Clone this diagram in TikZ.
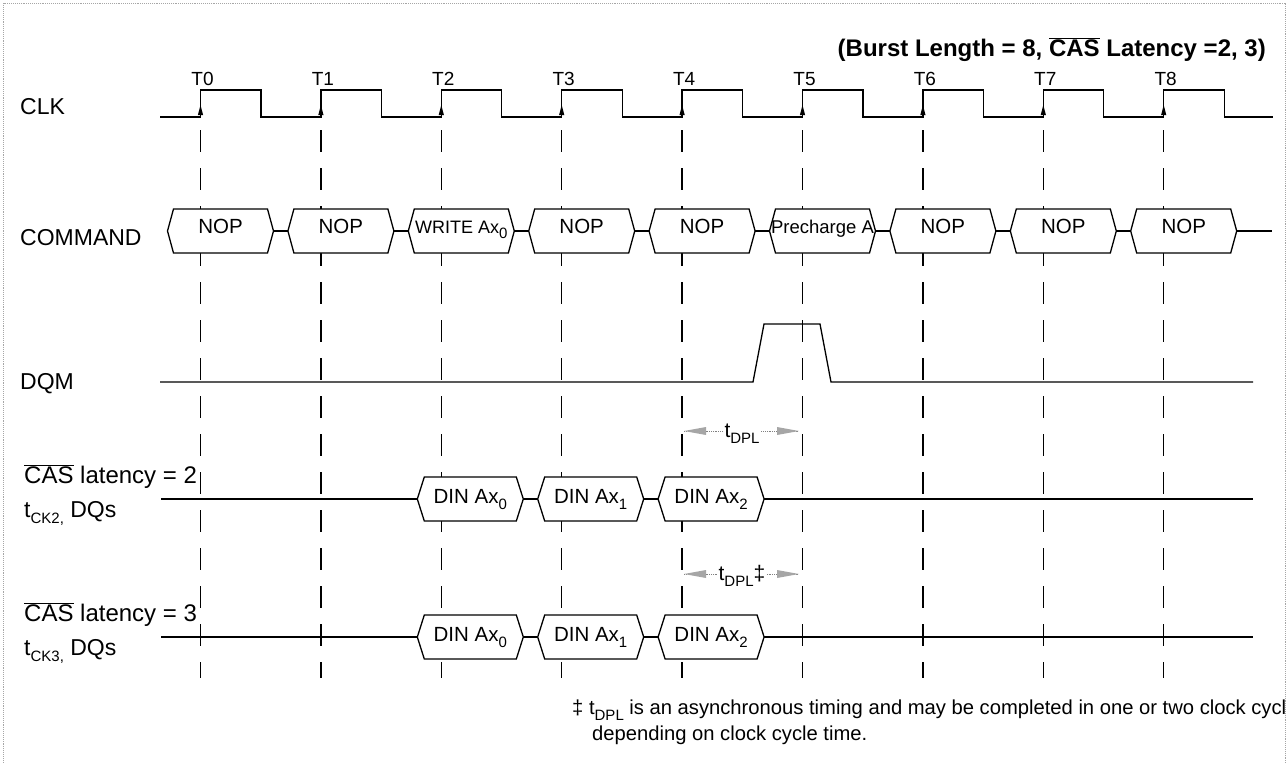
\documentclass[tikz,border=0pt]{standalone}
\usepackage{fontspec}
\setmainfont{Liberation Sans}
\usetikzlibrary{arrows.meta}
\newcommand\fsz[1]{\fontsize{#1}{#1}\selectfont}
\newcommand\subtxt[1]{\raisebox{-0.3em}{\fontsize{15}{15}\selectfont #1}}
\newcommand\ovl[1]{$\overline{\mbox{#1}}$}
\begin{document}
\begin{tikzpicture}[x=1pt,y=-1pt,
  sig/.style={line width=1.3pt, black},
  grid/.style={line width=1.4pt, dash pattern=on 22pt off 16pt},
  hexbox/.style={line width=1.3pt, fill=white, draw=black},
  rowlab/.style={anchor=base west, font=\fsz{23}, inner sep=0pt},
  tlab/.style={anchor=base, font=\fsz{19}, inner sep=0pt},
  cmdtxt/.style={anchor=base, font=\fsz{20}, inner sep=0pt},
  dintxt/.style={anchor=base, font=\fsz{20.5}, inner sep=0pt},
  dimtxt/.style={anchor=base, font=\fsz{21}, inner sep=1pt, fill=white},
  dimline/.style={gray, densely dotted, line width=0.8pt},
  dimhead/.style={fill=gray!70},
  foot/.style={anchor=base west, font=\fsz{20.2}, inner sep=0pt}
]
\useasboundingbox (0,0) rectangle (1288,763);
% border
\draw[gray!70, densely dotted, line width=0.9pt] (3,770) -- (3,3) -- (1285,3) -- (1285,770);

% title
\node[anchor=base east, font=\bfseries\fsz{24}, inner sep=0pt] (title) at (1266,56)
  {(Burst Length = 8, \ovl{CAS} Latency =2, 3)};

% row labels
\node[rowlab] (lclk) at (20,114) {CLK};
\node[rowlab] (lcmd) at (20,245) {COMMAND};
\node[rowlab] (ldqm) at (20,389) {DQM};
\node[rowlab, font=\fsz{24}] (lcas2) at (24,483) {\ovl{CAS} latency = 2};
\node[rowlab] (ltck2) at (24,517) {t\subtxt{CK2,} DQs};
\node[rowlab, font=\fsz{24}] (lcas3) at (24,621) {\ovl{CAS} latency = 3};
\node[rowlab] (ltck3) at (24,655) {t\subtxt{CK3,} DQs};

% vertical dashed lines and T labels
\foreach \k in {0,...,8}{
  \pgfmathsetmacro\tx{200.5+120.4*\k}
  \draw[grid] (\tx,130) -- (\tx,678);
  \node[tlab] (t\k) at (\tx+2,85) {T\k};
  \fill (\tx,105) -- (\tx+2.6,115) -- (\tx-2.6,115) -- cycle;
}

% clock
\draw[sig] (160,117)
  \foreach \k in {0,...,8}{ -- ({200.5+120.4*\k},117) -- ++(0,-27) -- ++(60.5,0) -- ++(0,27)}
  -- (1273,117);

% DQM
\draw[sig] (160,382) -- (753,382) -- (764,324) -- (820,324) -- (831,382) -- (1253,382);

% DQ lines
\draw[sig] (161,499) -- (1253,499);
\draw[sig] (161,637) -- (1253,637);

% command hexagons
\foreach \k/\txt/\fs in {0/NOP/20.5,1/NOP/20.5,2/{WRITE Ax\subtxt{0}}/18,3/NOP/20.5,4/NOP/20.5,5/{Precharge A}/18.5,6/NOP/20.5,7/NOP/20.5,8/NOP/20.5}{
  \pgfmathsetmacro\tx{200.5+120.4*\k}
  \pgfmathsetmacro\la{\tx-33}
  \pgfmathsetmacro\ra{\tx+73}
  \filldraw[hexbox] (\la,231) -- (\la+6,209) -- (\ra-6,209) -- (\ra,231) -- (\ra-6,253) -- (\la+6,253) -- cycle;
  \coordinate (cl\k) at (\la,231);
  \coordinate (cr\k) at (\ra,231);
  \node[cmdtxt, font=\fsz{\fs}] (c\k) at (\tx+20,233) {\txt};
}
\foreach \k [evaluate=\k as \n using int(\k+1)] in {0,...,7}{
  \draw[sig] (cr\k) -- (cl\n);
}
\coordinate (cmdend) at (1272,231);
\draw[sig] (cr8) -- (cmdend);

% DIN hexagons
\foreach \y/\r in {499/a,637/b}{
  \foreach \k/\i in {2/0,3/1,4/2}{
    \pgfmathsetmacro\tx{200.5+120.4*\k}
    \pgfmathsetmacro\la{\tx-24}
    \pgfmathsetmacro\ra{\tx+82}
    \filldraw[hexbox] (\la,\y) -- (\la+7,\y-22) -- (\ra-7,\y-22) -- (\ra,\y) -- (\ra-7,\y+22) -- (\la+7,\y+22) -- cycle;
    \node[dintxt] (d\r\i) at (\tx+29,\y+4) {DIN Ax\subtxt{\i}};
  }
}

% tDPL dimensions
\foreach \y/\lab/\nm in {431/{t\subtxt{DPL}}/p2, 574/{t\subtxt{DPL}‡}/p3}{
  \coordinate (\nm l) at (684,\y);
  \coordinate (\nm r) at (799,\y);
  \draw[dimline] (\nm l) -- (\nm r);
  \fill[dimhead] (\nm l) -- ++(22,-4) -- ++(0,8) -- cycle;
  \fill[dimhead] (\nm r) -- ++(-22,-4) -- ++(0,8) -- cycle;
  \node[dimtxt] (\nm) at (742,\y+6) {\lab};
}

% footnote
\begin{scope}
\clip (3,3) rectangle (1284,763);
\node[foot] (f1) at (572,714) {‡ t\subtxt{DPL} is an asynchronous timing and may be completed in one or two clock cycles};
\node[foot] (f2) at (592,740) {depending on clock cycle time.};
\end{scope}
\end{tikzpicture}
\end{document}
